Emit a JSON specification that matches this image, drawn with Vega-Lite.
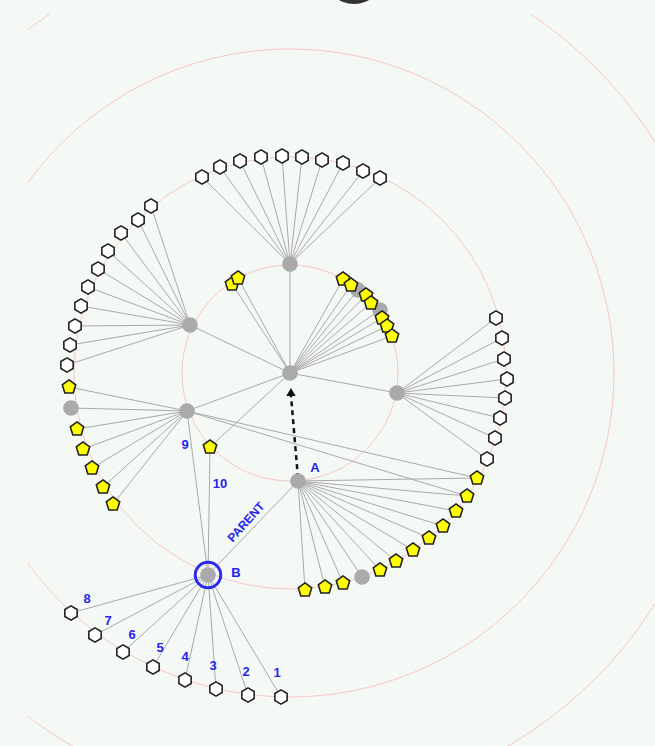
{
  "$schema": "https://vega.github.io/schema/vega-lite/v6.json",
  "width": 627,
  "height": 732,
  "padding": {"left": 28, "top": 14, "right": 0, "bottom": 0},
  "autosize": {"type": "none"},
  "background": "#f5f9f6",
  "config": {"view": {"stroke": null}},
  "datasets": {
    "rings": [
      {"level": 1, "x": 290, "y": 373},
      {"level": 2, "x": 290, "y": 373},
      {"level": 3, "x": 290, "y": 373},
      {"level": 4, "x": 290, "y": 373}
    ],
    "edges": [
      {"x": 290, "y": 373, "x2": 290, "y2": 264},
      {"x": 290, "y": 373, "x2": 190, "y2": 325},
      {"x": 290, "y": 373, "x2": 187, "y2": 411},
      {"x": 290, "y": 373, "x2": 397, "y2": 393},
      {"x": 290, "y": 373, "x2": 232, "y2": 284},
      {"x": 290, "y": 373, "x2": 238, "y2": 278},
      {"x": 290, "y": 373, "x2": 343, "y2": 279},
      {"x": 290, "y": 373, "x2": 351, "y2": 285},
      {"x": 290, "y": 373, "x2": 358, "y2": 290},
      {"x": 290, "y": 373, "x2": 366, "y2": 295},
      {"x": 290, "y": 373, "x2": 371, "y2": 303},
      {"x": 290, "y": 373, "x2": 380, "y2": 310},
      {"x": 290, "y": 373, "x2": 382, "y2": 318},
      {"x": 290, "y": 373, "x2": 387, "y2": 326},
      {"x": 290, "y": 373, "x2": 392, "y2": 336},
      {"x": 290, "y": 373, "x2": 210, "y2": 447},
      {"x": 290, "y": 264, "x2": 202, "y2": 177},
      {"x": 290, "y": 264, "x2": 220, "y2": 167},
      {"x": 290, "y": 264, "x2": 240, "y2": 161},
      {"x": 290, "y": 264, "x2": 261, "y2": 157},
      {"x": 290, "y": 264, "x2": 282, "y2": 156},
      {"x": 290, "y": 264, "x2": 302, "y2": 157},
      {"x": 290, "y": 264, "x2": 322, "y2": 160},
      {"x": 290, "y": 264, "x2": 343, "y2": 163},
      {"x": 290, "y": 264, "x2": 363, "y2": 171},
      {"x": 290, "y": 264, "x2": 380, "y2": 178},
      {"x": 190, "y": 325, "x2": 151, "y2": 206},
      {"x": 190, "y": 325, "x2": 138, "y2": 220},
      {"x": 190, "y": 325, "x2": 121, "y2": 233},
      {"x": 190, "y": 325, "x2": 108, "y2": 251},
      {"x": 190, "y": 325, "x2": 98, "y2": 269},
      {"x": 190, "y": 325, "x2": 88, "y2": 287},
      {"x": 190, "y": 325, "x2": 81, "y2": 306},
      {"x": 190, "y": 325, "x2": 75, "y2": 326},
      {"x": 190, "y": 325, "x2": 70, "y2": 345},
      {"x": 190, "y": 325, "x2": 67, "y2": 365},
      {"x": 187, "y": 411, "x2": 69, "y2": 387},
      {"x": 187, "y": 411, "x2": 71, "y2": 408},
      {"x": 187, "y": 411, "x2": 77, "y2": 429},
      {"x": 187, "y": 411, "x2": 83, "y2": 449},
      {"x": 187, "y": 411, "x2": 92, "y2": 468},
      {"x": 187, "y": 411, "x2": 103, "y2": 487},
      {"x": 187, "y": 411, "x2": 113, "y2": 504},
      {"x": 187, "y": 411, "x2": 477, "y2": 478},
      {"x": 187, "y": 411, "x2": 467, "y2": 496},
      {"x": 397, "y": 393, "x2": 496, "y2": 318},
      {"x": 397, "y": 393, "x2": 502, "y2": 338},
      {"x": 397, "y": 393, "x2": 504, "y2": 359},
      {"x": 397, "y": 393, "x2": 507, "y2": 379},
      {"x": 397, "y": 393, "x2": 505, "y2": 398},
      {"x": 397, "y": 393, "x2": 500, "y2": 418},
      {"x": 397, "y": 393, "x2": 495, "y2": 438},
      {"x": 397, "y": 393, "x2": 487, "y2": 459},
      {"x": 298, "y": 481, "x2": 477, "y2": 478},
      {"x": 298, "y": 481, "x2": 467, "y2": 496},
      {"x": 298, "y": 481, "x2": 456, "y2": 511},
      {"x": 298, "y": 481, "x2": 443, "y2": 526},
      {"x": 298, "y": 481, "x2": 429, "y2": 538},
      {"x": 298, "y": 481, "x2": 413, "y2": 550},
      {"x": 298, "y": 481, "x2": 396, "y2": 561},
      {"x": 298, "y": 481, "x2": 380, "y2": 570},
      {"x": 298, "y": 481, "x2": 362, "y2": 577},
      {"x": 298, "y": 481, "x2": 343, "y2": 583},
      {"x": 298, "y": 481, "x2": 325, "y2": 587},
      {"x": 298, "y": 481, "x2": 305, "y2": 590},
      {"x": 208, "y": 575, "x2": 71, "y2": 613},
      {"x": 208, "y": 575, "x2": 95, "y2": 635},
      {"x": 208, "y": 575, "x2": 123, "y2": 652},
      {"x": 208, "y": 575, "x2": 153, "y2": 667},
      {"x": 208, "y": 575, "x2": 185, "y2": 680},
      {"x": 208, "y": 575, "x2": 216, "y2": 689},
      {"x": 208, "y": 575, "x2": 248, "y2": 695},
      {"x": 208, "y": 575, "x2": 281, "y2": 697},
      {"x": 208, "y": 575, "x2": 187, "y2": 411},
      {"x": 208, "y": 575, "x2": 210, "y2": 447},
      {"x": 208, "y": 575, "x2": 298, "y2": 481}
    ],
    "arrow": [{"x": 298, "y": 478, "x2": 291, "y2": 396}],
    "arrowhead": [{"x": 291, "y": 392}],
    "blob": [{"x": 354, "y": -26}],
    "nodes": [
      {"x": 71, "y": 408, "kind": "gray"},
      {"x": 362, "y": 577, "kind": "gray"},
      {"x": 358, "y": 290, "kind": "gray"},
      {"x": 380, "y": 310, "kind": "gray"},
      {"x": 290, "y": 373, "kind": "gray"},
      {"x": 290, "y": 264, "kind": "gray"},
      {"x": 190, "y": 325, "kind": "gray"},
      {"x": 187, "y": 411, "kind": "gray"},
      {"x": 397, "y": 393, "kind": "gray"},
      {"x": 298, "y": 481, "kind": "gray"},
      {"x": 208, "y": 575, "kind": "gray"},
      {"x": 202, "y": 177, "kind": "white"},
      {"x": 220, "y": 167, "kind": "white"},
      {"x": 240, "y": 161, "kind": "white"},
      {"x": 261, "y": 157, "kind": "white"},
      {"x": 282, "y": 156, "kind": "white"},
      {"x": 302, "y": 157, "kind": "white"},
      {"x": 322, "y": 160, "kind": "white"},
      {"x": 343, "y": 163, "kind": "white"},
      {"x": 363, "y": 171, "kind": "white"},
      {"x": 380, "y": 178, "kind": "white"},
      {"x": 151, "y": 206, "kind": "white"},
      {"x": 138, "y": 220, "kind": "white"},
      {"x": 121, "y": 233, "kind": "white"},
      {"x": 108, "y": 251, "kind": "white"},
      {"x": 98, "y": 269, "kind": "white"},
      {"x": 88, "y": 287, "kind": "white"},
      {"x": 81, "y": 306, "kind": "white"},
      {"x": 75, "y": 326, "kind": "white"},
      {"x": 70, "y": 345, "kind": "white"},
      {"x": 67, "y": 365, "kind": "white"},
      {"x": 496, "y": 318, "kind": "white"},
      {"x": 502, "y": 338, "kind": "white"},
      {"x": 504, "y": 359, "kind": "white"},
      {"x": 507, "y": 379, "kind": "white"},
      {"x": 505, "y": 398, "kind": "white"},
      {"x": 500, "y": 418, "kind": "white"},
      {"x": 495, "y": 438, "kind": "white"},
      {"x": 487, "y": 459, "kind": "white"},
      {"x": 71, "y": 613, "kind": "white"},
      {"x": 95, "y": 635, "kind": "white"},
      {"x": 123, "y": 652, "kind": "white"},
      {"x": 153, "y": 667, "kind": "white"},
      {"x": 185, "y": 680, "kind": "white"},
      {"x": 216, "y": 689, "kind": "white"},
      {"x": 248, "y": 695, "kind": "white"},
      {"x": 281, "y": 697, "kind": "white"},
      {"x": 232, "y": 284, "kind": "yellow"},
      {"x": 238, "y": 278, "kind": "yellow"},
      {"x": 343, "y": 279, "kind": "yellow"},
      {"x": 351, "y": 285, "kind": "yellow"},
      {"x": 366, "y": 295, "kind": "yellow"},
      {"x": 371, "y": 303, "kind": "yellow"},
      {"x": 382, "y": 318, "kind": "yellow"},
      {"x": 387, "y": 326, "kind": "yellow"},
      {"x": 392, "y": 336, "kind": "yellow"},
      {"x": 210, "y": 447, "kind": "yellow"},
      {"x": 69, "y": 387, "kind": "yellow"},
      {"x": 77, "y": 429, "kind": "yellow"},
      {"x": 83, "y": 449, "kind": "yellow"},
      {"x": 92, "y": 468, "kind": "yellow"},
      {"x": 103, "y": 487, "kind": "yellow"},
      {"x": 113, "y": 504, "kind": "yellow"},
      {"x": 477, "y": 478, "kind": "yellow"},
      {"x": 467, "y": 496, "kind": "yellow"},
      {"x": 456, "y": 511, "kind": "yellow"},
      {"x": 443, "y": 526, "kind": "yellow"},
      {"x": 429, "y": 538, "kind": "yellow"},
      {"x": 413, "y": 550, "kind": "yellow"},
      {"x": 396, "y": 561, "kind": "yellow"},
      {"x": 380, "y": 570, "kind": "yellow"},
      {"x": 343, "y": 583, "kind": "yellow"},
      {"x": 325, "y": 587, "kind": "yellow"},
      {"x": 305, "y": 590, "kind": "yellow"}
    ],
    "ring": [{"x": 208, "y": 575}],
    "labels": [
      {"x": 87, "y": 599, "label": "8"},
      {"x": 108, "y": 621, "label": "7"},
      {"x": 132, "y": 635, "label": "6"},
      {"x": 160, "y": 648, "label": "5"},
      {"x": 185, "y": 657, "label": "4"},
      {"x": 213, "y": 666, "label": "3"},
      {"x": 246, "y": 672, "label": "2"},
      {"x": 277, "y": 673, "label": "1"},
      {"x": 185, "y": 445, "label": "9"},
      {"x": 220, "y": 484, "label": "10"},
      {"x": 315, "y": 468, "label": "A"},
      {"x": 236, "y": 573, "label": "B"}
    ],
    "parent": [{"x": 246, "y": 522, "label": "PARENT"}]
  },
  "encoding": {
    "x": {"field": "x", "type": "quantitative", "scale": {"domain": [28, 655], "nice": false, "zero": false}, "axis": null},
    "y": {"field": "y", "type": "quantitative", "scale": {"domain": [14, 746], "nice": false, "zero": false, "reverse": true}, "axis": null}
  },
  "layer": [
    {
      "data": {"name": "rings"},
      "mark": {"type": "point", "filled": false, "shape": "circle", "stroke": "#f7c6c6", "strokeWidth": 1, "opacity": 1, "clip": true},
      "encoding": {
        "size": {"field": "level", "type": "quantitative", "scale": {"type": "pow", "exponent": 2, "domain": [0, 4], "range": [0, 746496]}, "legend": null}
      }
    },
    {
      "data": {"name": "edges"},
      "mark": {"type": "rule", "color": "#a9a9a9", "strokeWidth": 1},
      "encoding": {
        "x2": {"field": "x2"},
        "y2": {"field": "y2"}
      }
    },
    {
      "data": {"name": "arrow"},
      "mark": {"type": "rule", "color": "#111111", "strokeWidth": 2.5, "strokeDash": [5, 4]},
      "encoding": {
        "x2": {"field": "x2"},
        "y2": {"field": "y2"}
      }
    },
    {
      "data": {"name": "arrowhead"},
      "mark": {"type": "point", "shape": "triangle-up", "filled": true, "color": "#111111", "size": 90, "opacity": 1}
    },
    {
      "data": {"name": "blob"},
      "mark": {"type": "point", "shape": "circle", "filled": true, "color": "#333333", "size": 3600, "opacity": 1}
    },
    {
      "data": {"name": "nodes"},
      "mark": {"type": "point", "filled": true, "strokeWidth": 1.6, "opacity": 1, "size": 200},
      "encoding": {
        "shape": {"field": "kind", "type": "nominal", "scale": {"domain": ["gray", "white", "yellow"], "range": ["circle", "M0,-1L0.87,-0.5L0.87,0.5L0,1L-0.87,0.5L-0.87,-0.5Z", "M0,-1L0.95,-0.31L0.59,0.85L-0.59,0.85L-0.95,-0.31Z"]}, "legend": null},
        "fill": {"field": "kind", "type": "nominal", "scale": {"domain": ["gray", "white", "yellow"], "range": ["#aaaaaa", "#ffffff", "#ffff00"]}, "legend": null},
        "stroke": {"field": "kind", "type": "nominal", "scale": {"domain": ["gray", "white", "yellow"], "range": ["#aaaaaa", "#222222", "#222222"]}, "legend": null}
      }
    },
    {
      "data": {"name": "ring"},
      "mark": {"type": "point", "shape": "circle", "filled": false, "stroke": "#2a2aee", "strokeWidth": 3, "size": 650, "opacity": 1}
    },
    {
      "data": {"name": "labels"},
      "mark": {"type": "text", "color": "#2424f0", "font": "Liberation Sans", "fontSize": 13, "fontWeight": "bold", "align": "center", "baseline": "middle"},
      "encoding": {"text": {"field": "label"}}
    },
    {
      "data": {"name": "parent"},
      "mark": {"type": "text", "color": "#2424f0", "font": "Liberation Sans", "fontSize": 12, "fontWeight": "bold", "align": "center", "baseline": "middle", "angle": -48},
      "encoding": {"text": {"field": "label"}}
    }
  ]
}
